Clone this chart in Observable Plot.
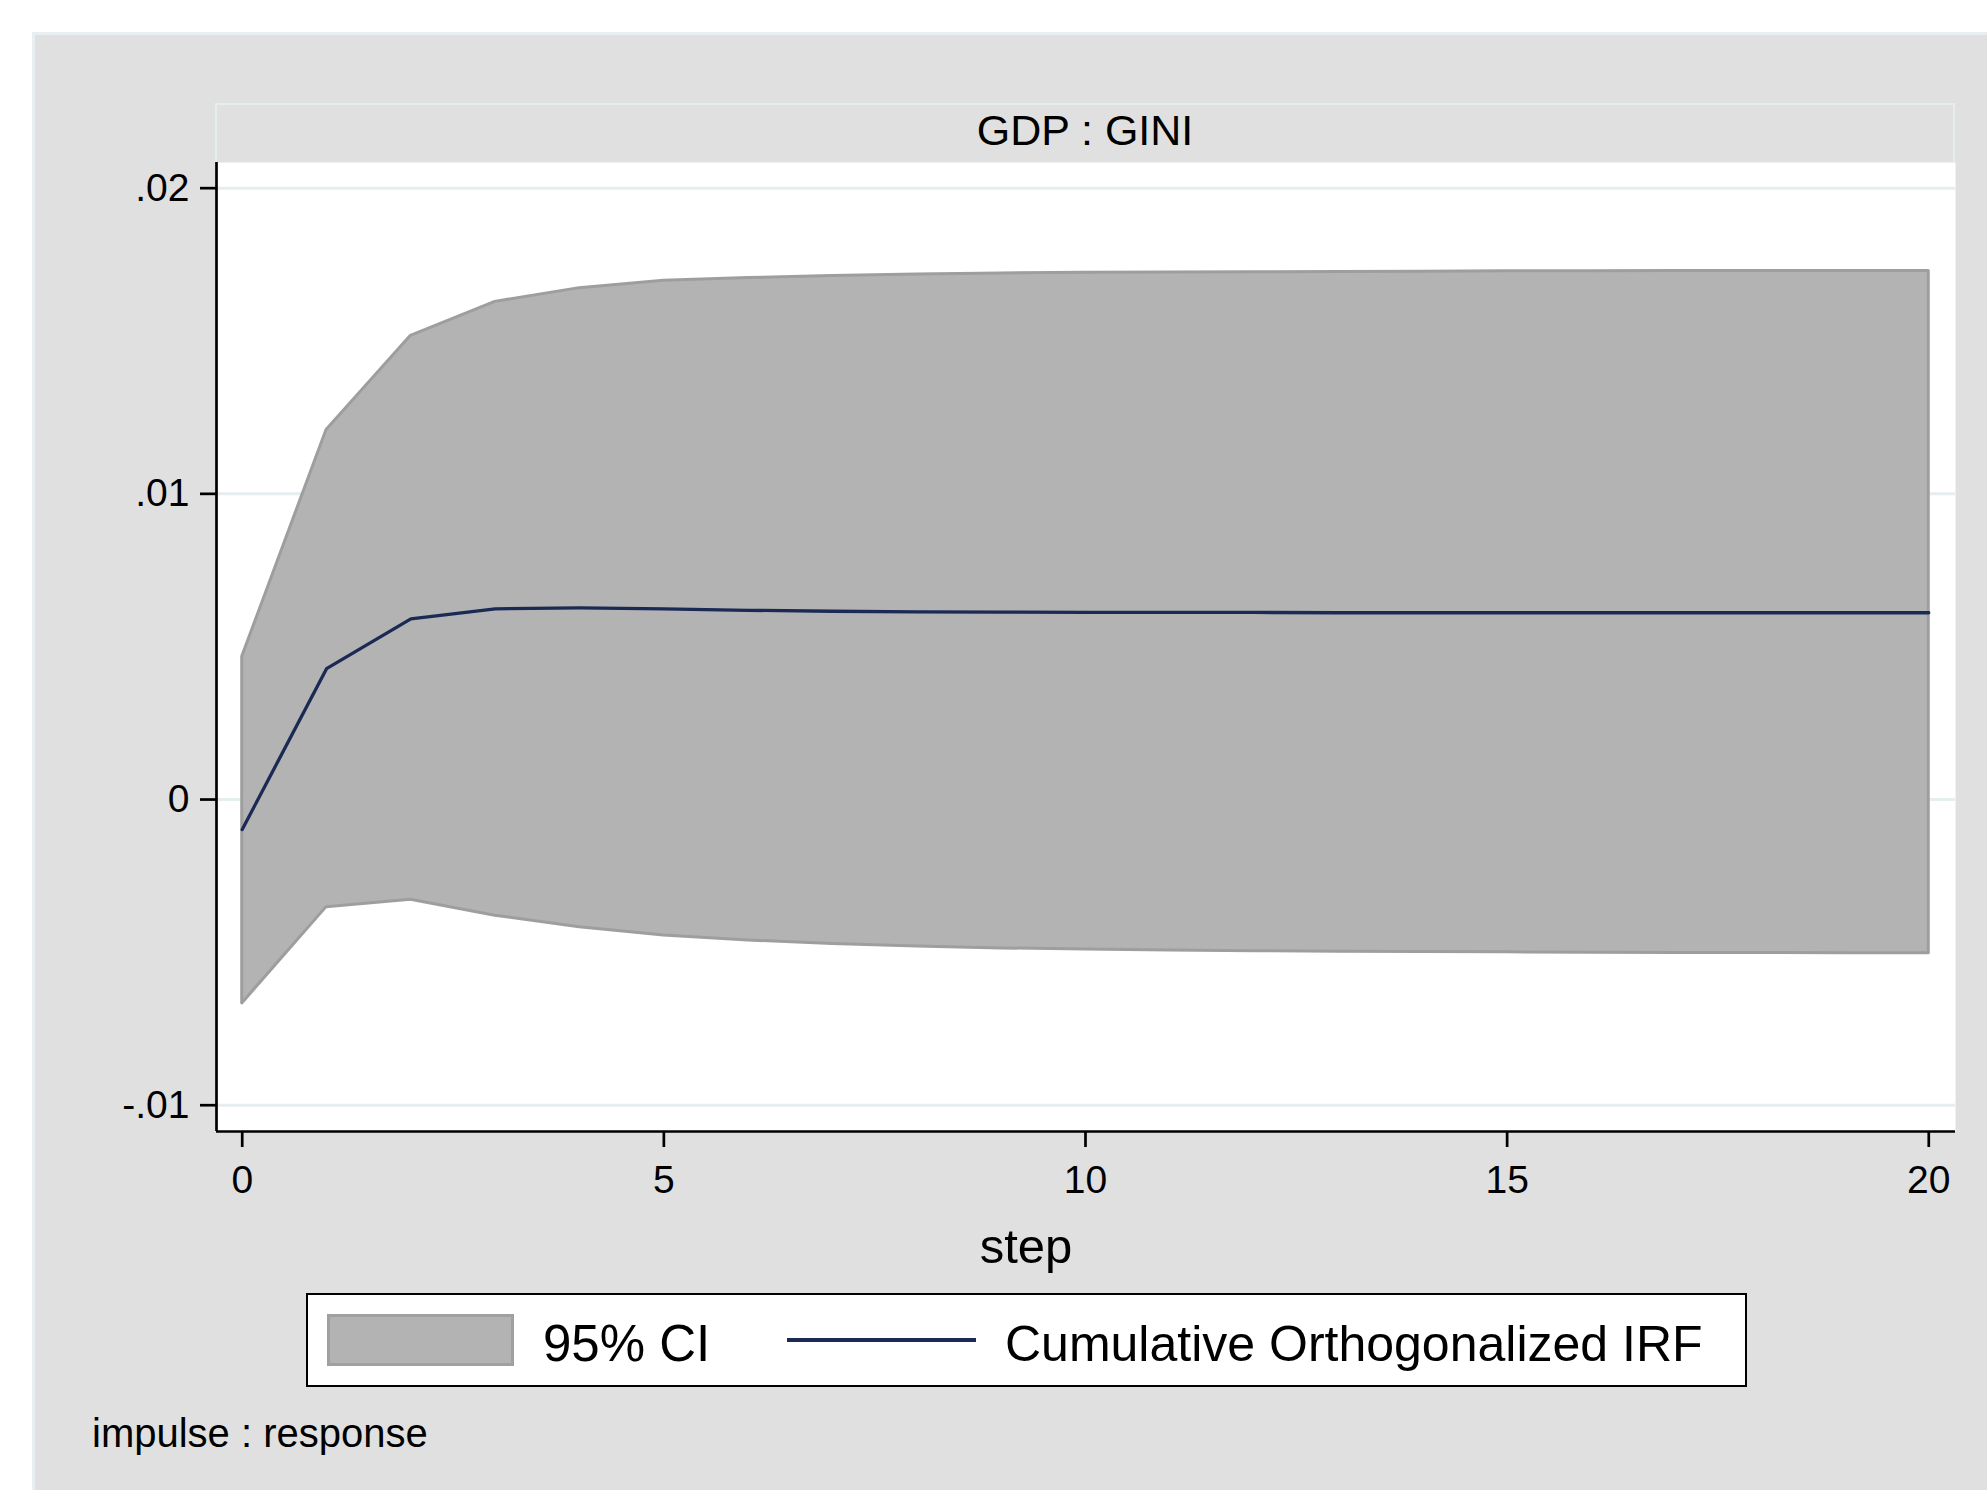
<!DOCTYPE html>
<html>
<head>
<meta charset="utf-8">
<script src="https://cdn.jsdelivr.net/npm/d3@7"></script>
<script src="https://cdn.jsdelivr.net/npm/@observablehq/plot@0.6"></script>
<style>
  html, body { margin: 0; padding: 0; background: #ffffff; }
  body { width: 1987px; height: 1490px; position: relative; overflow: hidden;
         font-family: "Liberation Sans", Arial, Helvetica, sans-serif; color: #000; }
  #panel { position: absolute; left: 32px; top: 32px; right: 0; bottom: 0;
           background: #e0e0e0; border-top: 3px solid #e9eef0; border-left: 3px solid #e9eef0; box-sizing: border-box; }
  #strip { position: absolute; left: 215px; top: 103px; width: 1740px; height: 59px;
           background: #e0e0e0; border: 2px solid #e6edef; border-bottom: none; box-sizing: border-box; }
  .txt { position: absolute; white-space: nowrap; line-height: 1; }
  #chart { position: absolute; left: 0; top: 0; }
  #legend { position: absolute; left: 306px; top: 1293px; width: 1441px; height: 94px;
            background: #fff; border: 2.5px solid #000; box-sizing: border-box; }
  #swatch { position: absolute; left: 327px; top: 1314px; width: 187px; height: 52px;
            background: #b3b3b3; border: 3px solid #a0a0a0; box-sizing: border-box; }
  #lineKey { position: absolute; left: 787px; top: 1338px; width: 189px; height: 4px; background: #1b2a55; }
</style>
</head>
<body>
<div id="panel"></div>
<div id="strip"></div>
<div id="chart"></div>
<div id="legend"></div>
<div id="swatch"></div>
<div id="lineKey"></div>
<script>
// ---- data ----
const steps = [0, 1, 2, 3, 4, 5, 6, 7, 8, 9, 10, 11, 12, 13, 14, 15, 16, 17, 18, 19, 20];
const upper = [0.00467, 0.01209, 0.01517, 0.01628, 0.01673, 0.01697, 0.01706, 0.01713, 0.01718, 0.01721, 0.01723,
               0.01724, 0.01725, 0.01726, 0.01727, 0.01728, 0.01728, 0.01729, 0.01729, 0.01729, 0.01729];
const lower = [-0.00667, -0.00352, -0.00328, -0.00380, -0.00418, -0.00445, -0.00461, -0.00473, -0.00481, -0.00487, -0.00491,
               -0.00494, -0.00496, -0.00498, -0.00499, -0.00500, -0.00501, -0.00502, -0.00502, -0.00503, -0.00503];
const irf   = [-0.00098, 0.00428, 0.00591, 0.00624, 0.00627, 0.00624, 0.00619, 0.00616, 0.00614, 0.00613, 0.00612,
               0.00612, 0.00612, 0.00611, 0.00611, 0.00611, 0.00611, 0.00611, 0.00611, 0.00611, 0.00611];
const xTicks = [0, 5, 10, 15, 20];
const yTicks = [0.02, 0.01, 0, -0.01];
const yTickLabels = [".02", ".01", "0", "-.01"];
const xDomain = [-0.305, 20.317];
const yDomain = [-0.01086, 0.02084];

const panelTitle = "GDP : GINI";
const xTitle = "step";
const ciLabel = "95% CI";
const lineLabel = "Cumulative Orthogonalized IRF";
const note = "impulse : response";

const data = steps.map((s, i) => ({step: s, lower: lower[i], upper: upper[i], irf: irf[i]}));

const chart = Plot.plot({
  width: 1987,
  height: 1290,
  marginLeft: 216,
  marginRight: 32,
  marginTop: 162,
  marginBottom: 159,
  style: {background: "transparent", fontFamily: "'Liberation Sans', Arial, sans-serif", fontSize: "38px", color: "black", overflow: "visible"},
  x: {domain: xDomain},
  y: {domain: yDomain},
  marks: [
    Plot.frame({fill: "white", stroke: "none"}),
    Plot.gridY(yTicks, {stroke: "#e6eef0", strokeOpacity: 1, strokeWidth: 3}),
    Plot.areaY(data, {x: "step", y1: "lower", y2: "upper", fill: "#b3b3b3", stroke: "#9e9e9e", strokeWidth: 3, strokeLinejoin: "round"}),
    Plot.line(data, {x: "step", y: "irf", stroke: "#1b2a55", strokeWidth: 3.3}),
    Plot.ruleX([xDomain[0]], {stroke: "black", strokeWidth: 2.7}),
    Plot.ruleY([yDomain[0]], {stroke: "black", strokeWidth: 2.7}),
    Plot.axisY(yTicks, {tickSize: 16, tickPadding: 11, strokeWidth: 2.7, label: null, fontSize: 39,
                        tickFormat: d => yTickLabels[yTicks.indexOf(d)]}),
    Plot.axisX(xTicks, {tickSize: 16, tickPadding: 18, strokeWidth: 2.7, label: null, fontSize: 39})
  ]
});
document.getElementById("chart").appendChild(chart);

// text placed by baseline (Liberation Sans: baseline at ~0.8465em with line-height 1)
function addText(str, fs, baseline, left, anchor) {
  const d = document.createElement("div");
  d.className = "txt";
  d.textContent = str;
  d.style.fontSize = fs + "px";
  d.style.top = (baseline - 0.8465 * fs) + "px";
  if (anchor === "middle") { d.style.left = left + "px"; d.style.transform = "translateX(-50%)"; }
  else d.style.left = left + "px";
  document.body.appendChild(d);
}
addText(panelTitle, 43, 145, 1085, "middle");
addText(xTitle, 49, 1263, 1026, "middle");
addText(ciLabel, 51, 1361, 543);
addText(lineLabel, 50, 1361, 1005);
addText(note, 40, 1447, 92);
</script>
</body>
</html>
